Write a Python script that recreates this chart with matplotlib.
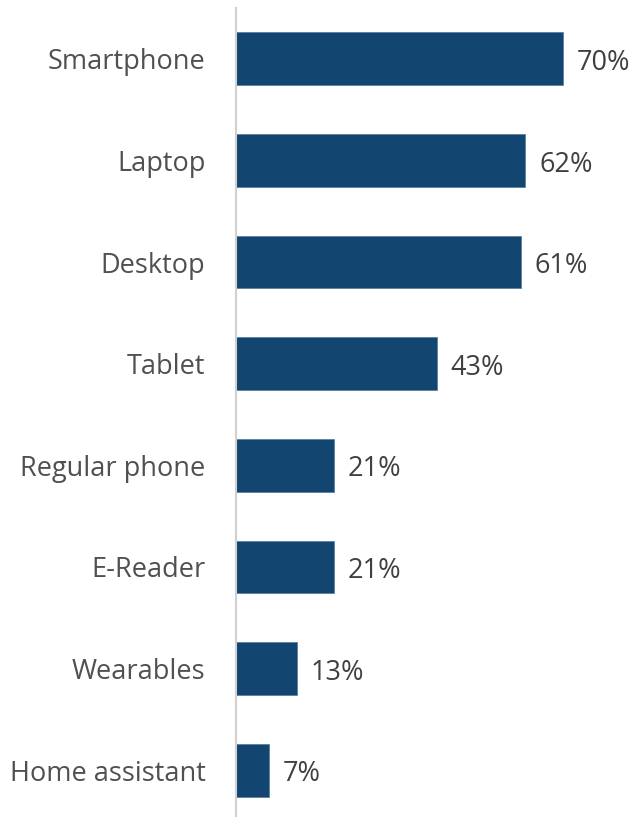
import matplotlib.pyplot as plt

devices = ["Smartphone", "Laptop", "Desktop", "Tablet", "Regular phone",
           "E-Reader", "Wearables", "Home assistant"]
shares = [70, 62, 61, 43, 21, 21, 13, 7]

plt.rcParams['font.family'] = ['Open Sans', 'DejaVu Sans']

fig = plt.figure(figsize=(6.37, 8.17), dpi=100)
ax = fig.add_axes([236 / 637, -4 / 817, 401 / 637, 813 / 817])

ax.barh(range(len(devices)), shares, height=0.52, color='#134571',
        edgecolor='#5b7fa3', linewidth=0.6)
ax.set_ylim(len(devices) - 0.5, -0.5)
ax.set_xlim(0, 85.9)

# percentage next to each bar
for i, v in enumerate(shares):
    ax.text(v + 3.0, i + 0.04, f"{v}%", va='center', ha='left', fontsize=19.5,
            color='#404040')

ax.set_yticks(range(len(devices)))
ax.set_yticklabels(devices, fontsize=19.5, color='#505050')
ax.tick_params(axis='y', length=0, pad=22)
ax.set_xticks([])
for side in ['top', 'right', 'bottom']:
    ax.spines[side].set_visible(False)
ax.spines['left'].set_color('#d0d0d0')
ax.spines['left'].set_linewidth(1.5)

fig.savefig('out.png', dpi=100)
